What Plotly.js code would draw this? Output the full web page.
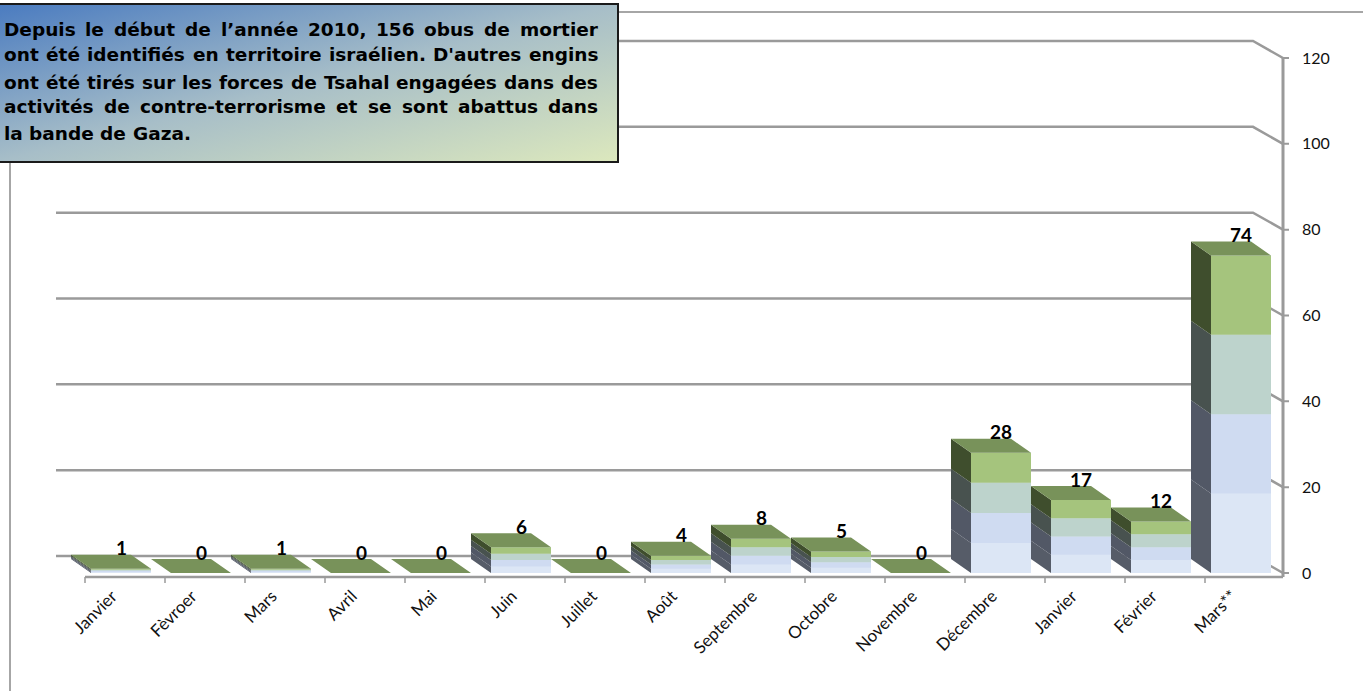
<!DOCTYPE html>
<html>
<head>
<meta charset="utf-8">
<script src="https://cdn.plot.ly/plotly-3.0.1.min.js"></script>
<style>
  html, body { margin: 0; padding: 0; background: #ffffff; }
  #chart { width: 1363px; height: 691px; }
</style>
</head>
<body>
<div id="chart"></div>
<script>
// ---------------- DATA ----------------
const categories = ['Janvier', 'Fèvroer', 'Mars', 'Avril', 'Mai', 'Juin', 'Juillet', 'Août',
                    'Septembre', 'Octobre', 'Novembre', 'Décembre', 'Janvier', 'Février', 'Mars**'];
const values = [1, 0, 1, 0, 0, 6, 0, 4, 8, 5, 0, 28, 17, 12, 74];
const yTickValues = [0, 20, 40, 60, 80, 100, 120];
const yTickLabels = ['0', '20', '40', '60', '80', '100', '120'];
const noteLines = [
  'Depuis le début de l’année 2010, 156 obus de mortier',
  'ont été identifiés en territoire israélien. D\'autres engins',
  'ont été tirés sur les forces de Tsahal engagées dans des',
  'activités de contre-terrorisme et se sont abattus dans',
  'la bande de Gaza.'
];

// ---------------- STYLE / GEOMETRY ----------------
const W = 1363, H = 691;
const M = { l: 30, r: 71, t: 30, b: 101 };
const plotW = W - M.l - M.r, plotH = H - M.t - M.b;
const xRange = [-1.1375, 14.6375];
const yRange = [-3.961, 126.52];
const pxX = plotW / (xRange[1] - xRange[0]);
const pxY = plotH / (yRange[1] - yRange[0]);

const half = 0.375;               // half width of the front face
const depthX = 20 / pxX;          // bar depth (to the back-left)
const depthY = 14 / pxY;
const backX = 30 / pxX;           // back wall offset
const backY = 17 / pxY;
const gridStart = (56 - M.l) / pxX + xRange[0];
const axisX = 14.525;
const axisBottom = -4 / pxY;

const frontColors = ['#dce6f5', '#cfdbf1', '#bdd3cc', '#a5c47d'];
const sideColors = ['#565c68', '#525866', '#48524f', '#3f4e2d'];
const topColor = '#78925a';
const gridColor = '#9a9a9a';

const noteFontFamily = 'DejaVu Sans';
const noteFontSize = 18.5;

function px2paperX(px) { return (px - M.l) / plotW; }
function px2paperY(py) { return (H - M.b - py) / plotH; }

// ---------------- TRACES ----------------
const idx = categories.map((c, i) => i);

const traces = [];
traces.push({
  type: 'bar', x: idx, y: values, width: 2 * half,
  marker: { color: frontColors[0], line: { width: 0 } },
  hoverinfo: 'skip', showlegend: false
});

function polyTrace(color, polys) {
  const x = [], y = [];
  polys.forEach(p => {
    p.forEach(pt => { x.push(pt[0]); y.push(pt[1]); });
    x.push(null); y.push(null);
  });
  return { type: 'scatter', mode: 'lines', x: x, y: y, fill: 'toself',
           fillcolor: color, line: { width: 0, color: color },
           hoverinfo: 'skip', showlegend: false };
}

for (let k = 1; k < 4; k++) {
  const polys = values.map((v, i) => {
    const y0 = v * k / 4, y1 = v * (k + 1) / 4;
    return [[i - half, y0], [i + half, y0], [i + half, y1], [i - half, y1]];
  });
  traces.push(polyTrace(frontColors[k], polys));
}
for (let k = 0; k < 4; k++) {
  const polys = values.map((v, i) => {
    const y0 = v * k / 4, y1 = v * (k + 1) / 4;
    return [[i - half, y0], [i - half, y1], [i - half - depthX, y1 + depthY], [i - half - depthX, y0 + depthY]];
  });
  traces.push(polyTrace(sideColors[k], polys));
}
traces.push(polyTrace(topColor, values.map((v, i) => [
  [i - half, v], [i + half, v], [i + half - depthX, v + depthY], [i - half - depthX, v + depthY]
])));

// ---------------- SHAPES ----------------
const shapes = [];
shapes.push({
  type: 'path', xref: 'paper', yref: 'paper', layer: 'below',
  path: 'M ' + px2paperX(10) + ',' + px2paperY(700) + ' L ' + px2paperX(10) + ',' + px2paperY(12) +
        ' L ' + px2paperX(1370) + ',' + px2paperY(12),
  line: { color: '#a6a6a6', width: 2 }
});
yTickValues.forEach(t => {
  shapes.push({
    type: 'path', xref: 'x', yref: 'y', layer: 'below',
    path: 'M ' + gridStart + ',' + (t + backY) + ' L ' + (axisX - backX) + ',' + (t + backY) +
          ' L ' + axisX + ',' + t,
    line: { color: gridColor, width: 2.5 }
  });
});
shapes.push({
  type: 'line', xref: 'x', yref: 'y', layer: 'below',
  x0: -0.45, x1: axisX, y0: axisBottom, y1: axisBottom,
  line: { color: gridColor, width: 2.5 }
});
let tickPath = '';
idx.forEach(i => {
  tickPath += ' M ' + (i - 0.45) + ',' + axisBottom + ' L ' + (i - 0.45) + ',' + (axisBottom - 6 / pxY);
});
shapes.push({ type: 'path', xref: 'x', yref: 'y', layer: 'below', path: tickPath,
              line: { color: gridColor, width: 1.5 } });
shapes.push({
  type: 'line', xref: 'x', yref: 'y', layer: 'below',
  x0: axisX, x1: axisX, y0: axisBottom, y1: yTickValues[yTickValues.length - 1],
  line: { color: gridColor, width: 3 }
});
let yTickPath = '';
yTickValues.forEach(t => {
  yTickPath += ' M ' + axisX + ',' + t + ' L ' + (axisX + 6 / pxX) + ',' + t;
});
shapes.push({ type: 'path', xref: 'x', yref: 'y', layer: 'below', path: yTickPath,
              line: { color: gridColor, width: 2 } });
shapes.push({
  type: 'rect', xref: 'paper', yref: 'paper', layer: 'above',
  x0: px2paperX(-3), x1: px2paperX(618), y0: px2paperY(162), y1: px2paperY(4),
  line: { color: '#1a1a1a', width: 2 }, fillcolor: 'rgba(0,0,0,0)'
});

// ---------------- NOTE BOX BACKGROUND ----------------
const svgGrad = "<svg xmlns='http://www.w3.org/2000/svg' width='621' height='158' viewBox='0 0 621 158' preserveAspectRatio='none'>" +
  "<defs><linearGradient id='g' x1='0' y1='0' x2='1' y2='1'>" +
  "<stop offset='0' stop-color='#4a7bc0'/><stop offset='0.5' stop-color='#a7bec8'/><stop offset='1' stop-color='#dce8bd'/>" +
  "</linearGradient></defs><rect width='621' height='158' fill='url(#g)'/></svg>";
const images = [{
  source: 'data:image/svg+xml;charset=utf-8,' + encodeURIComponent(svgGrad),
  xref: 'paper', yref: 'paper', x: px2paperX(-3), y: px2paperY(4),
  sizex: 621 / plotW, sizey: 158 / plotH, xanchor: 'left', yanchor: 'top',
  sizing: 'stretch', layer: 'above'
}];

// ---------------- ANNOTATIONS ----------------
const annotations = [];
const lineY = [29, 55, 82, 107, 133];
const textLeft = 2, textRight = 596;
const ctx = document.createElement('canvas').getContext('2d');
ctx.font = 'bold ' + noteFontSize + 'px "' + noteFontFamily + '"';
const spaceW = ctx.measureText(' ').width;
const noteFont = { family: noteFontFamily + ', Verdana, sans-serif', size: noteFontSize, color: '#000000', weight: 'bold' };
noteLines.forEach((txt, k) => {
  const words = txt.split(' ');
  const widths = words.map(w => ctx.measureText(w).width);
  const sum = widths.reduce((a, b) => a + b, 0);
  const justify = k < noteLines.length - 1 && words.length > 1;
  const gap = justify ? (textRight - textLeft - sum) / (words.length - 1) : spaceW;
  let pos = textLeft;
  words.forEach((w, j) => {
    annotations.push({
      xref: 'paper', yref: 'paper', x: px2paperX(pos), y: px2paperY(lineY[k]),
      xanchor: 'left', yanchor: 'middle', showarrow: false, text: w, align: 'left',
      font: noteFont
    });
    pos += widths[j] + gap;
  });
});
values.forEach((v, i) => {
  annotations.push({
    xref: 'x', yref: 'y', x: i, y: v, yshift: 21, xanchor: 'center', yanchor: 'middle',
    showarrow: false, text: String(v),
    font: { family: 'Lato, Open Sans, sans-serif', size: 19, color: '#000000', weight: 'bold' }
  });
});

// ---------------- LAYOUT ----------------
const layout = {
  width: W, height: H,
  margin: M,
  paper_bgcolor: '#ffffff', plot_bgcolor: 'rgba(0,0,0,0)',
  showlegend: false,
  xaxis: {
    range: xRange, tickmode: 'array', tickvals: idx, ticktext: categories,
    tickangle: -45, ticks: '', ticklabelshift: -9, ticklabelstandoff: -8,
    showgrid: false, zeroline: false, showline: false,
    tickfont: { family: 'Lato, Open Sans, sans-serif', size: 17, color: '#111111' },
    fixedrange: true
  },
  yaxis: {
    side: 'right', range: yRange, tickmode: 'array', tickvals: yTickValues, ticktext: yTickLabels,
    ticks: '', ticklabelstandoff: 9, showgrid: false, zeroline: false, showline: false,
    tickfont: { family: 'Lato, Open Sans, sans-serif', size: 16, color: '#111111' },
    fixedrange: true
  },
  shapes: shapes,
  images: images,
  annotations: annotations
};

Plotly.newPlot('chart', traces, layout, { displayModeBar: false, staticPlot: true });
</script>
</body>
</html>
